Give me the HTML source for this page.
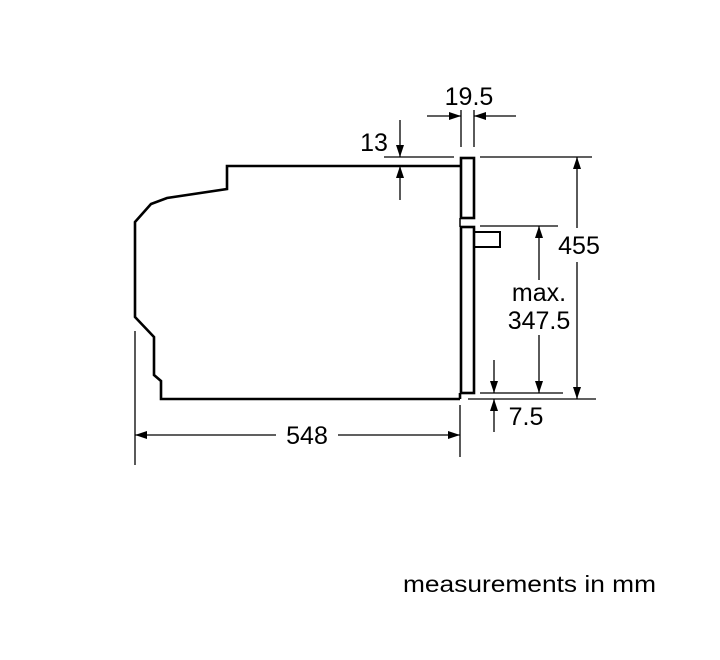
<!DOCTYPE html>
<html><head><meta charset="utf-8"><style>html,body{margin:0;padding:0;background:#fff}svg{display:block}</style></head>
<body>
<svg width="720" height="660" viewBox="0 0 720 660" xmlns="http://www.w3.org/2000/svg" font-family="Liberation Sans, Arial, sans-serif" fill="#000">
<defs>
<marker id="a" viewBox="0 0 12 8" refX="12" refY="4" markerWidth="12" markerHeight="8" markerUnits="userSpaceOnUse" orient="auto"><path d="M0,0 L12,4 L0,8 z" fill="#000"/></marker>
</defs>
<g fill="none" stroke="#000">
<path d="M460,166 L227,166 L227,189 L167,198 L151,204 L135,222 L135,317 L154,337 L154,375 L161,381 L161,399 L460,399" stroke-width="2.6"/>
<rect x="461" y="158" width="13" height="60" stroke-width="2.6"/>
<rect x="461" y="227" width="13" height="166" stroke-width="2.6"/>
<line x1="460" y1="218" x2="460" y2="227" stroke-width="1.5"/>
<rect x="474" y="232" width="26" height="15" stroke-width="2"/>
<line x1="460" y1="393" x2="460" y2="399" stroke-width="2.6"/>
<g stroke-width="1.3">
<line x1="461" y1="110" x2="461" y2="147"/>
<line x1="474" y1="110" x2="474" y2="147"/>
<line x1="427" y1="116" x2="461" y2="116" marker-end="url(#a)"/>
<line x1="516" y1="116" x2="474" y2="116" marker-end="url(#a)"/>
<line x1="480" y1="157" x2="592" y2="157"/>
<line x1="468" y1="399" x2="596" y2="399"/>
<line x1="577" y1="228" x2="577" y2="157" marker-end="url(#a)"/>
<line x1="577" y1="262" x2="577" y2="399" marker-end="url(#a)"/>
<line x1="480" y1="226" x2="558" y2="226"/>
<line x1="480" y1="393" x2="563" y2="393"/>
<line x1="539" y1="280" x2="539" y2="226" marker-end="url(#a)"/>
<line x1="539" y1="335" x2="539" y2="393" marker-end="url(#a)"/>
<line x1="494" y1="360" x2="494" y2="393" marker-end="url(#a)"/>
<line x1="494" y1="432" x2="494" y2="399" marker-end="url(#a)"/>
<line x1="384" y1="157" x2="454" y2="157"/>
<line x1="400" y1="120" x2="400" y2="157" marker-end="url(#a)"/>
<line x1="400" y1="200" x2="400" y2="166" marker-end="url(#a)"/>
<line x1="135" y1="331" x2="135" y2="465"/>
<line x1="460" y1="405" x2="460" y2="457"/>
<line x1="276" y1="435" x2="135" y2="435" marker-end="url(#a)"/>
<line x1="338" y1="435" x2="460" y2="435" marker-end="url(#a)"/>
</g>
</g>
<g font-size="25" text-anchor="middle">
<text x="469" y="105">19.5</text>
<text x="374" y="151">13</text>
<text x="579" y="254">455</text>
<text x="539" y="301">max.</text>
<text x="539" y="329">347.5</text>
<text x="526" y="425">7.5</text>
<text x="307" y="444">548</text>
</g>
<text x="403" y="592" font-size="23" textLength="253" lengthAdjust="spacingAndGlyphs">measurements in mm</text>
</svg>
</body></html>
